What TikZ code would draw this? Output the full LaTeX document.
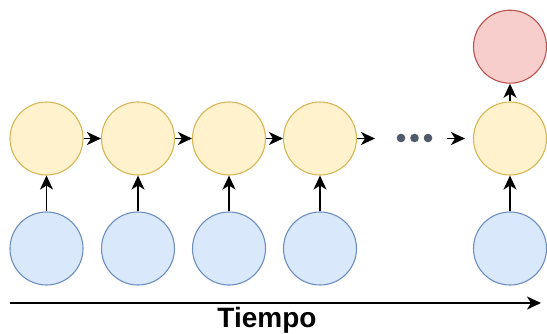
\documentclass[tikz,border=0pt]{standalone}
\usepackage{fontspec}
\setmainfont{Liberation Sans}
\usetikzlibrary{arrows.meta}
\definecolor{yfill}{HTML}{FFF2CC}
\definecolor{ydraw}{HTML}{D6B656}
\definecolor{bfill}{HTML}{DAE8FC}
\definecolor{bdraw}{HTML}{6C8EBF}
\definecolor{rfill}{HTML}{F8CECC}
\definecolor{rdraw}{HTML}{B85450}
\definecolor{dotc}{HTML}{4F5B6B}
\begin{document}
\begin{tikzpicture}[x=1pt,y=-1pt,
  cell/.style={circle,minimum size=73pt,inner sep=0pt,line width=1.1pt},
  hid/.style={cell,fill=yfill,draw=ydraw},
  inp/.style={cell,fill=bfill,draw=bdraw},
  outp/.style={cell,fill=rfill,draw=rdraw},
  dotnode/.style={circle,fill=dotc,minimum size=8.6pt,inner sep=0pt},
  conn/.style={line width=1.8pt,-{Stealth[length=14pt,width=13pt,inset=4pt]}},
  timeline/.style={line width=1.8pt,-{Stealth[length=14pt,width=13pt,inset=4pt]}}]
\useasboundingbox (0,0) rectangle (547,333);
\node[hid] (y1) at (46.5,138.5) {};
\node[hid] (y2) at (138,138.5) {};
\node[hid] (y3) at (229,138.5) {};
\node[hid] (y4) at (320,138.5) {};
\node[hid] (y5) at (510,138.5) {};
\node[outp] (r) at (510,46.7) {};
\node[inp] (b1) at (46.5,248.5) {};
\node[inp] (b2) at (138,248.5) {};
\node[inp] (b3) at (229,248.5) {};
\node[inp] (b4) at (320,248.5) {};
\node[inp] (b5) at (510,248.5) {};
\node[dotnode] (d1) at (401,138) {};
\node[dotnode] (d2) at (414.5,138) {};
\node[dotnode] (d3) at (428,138) {};
\coordinate (a1e) at (375,138.5);
\coordinate (a2s) at (447,138.5);
\coordinate (a2e) at (465,138.5);
\draw[conn] (y1) -- (y2);
\draw[conn] (y2) -- (y3);
\draw[conn] (y3) -- (y4);
\draw[conn] (y4) -- (a1e);
\draw[conn] (a2s) -- (a2e);
\draw[conn] (y5) -- (r);
\foreach \i in {1,...,5} \draw[conn] (b\i) -- (y\i);
\coordinate (t0) at (10,303);
\coordinate (t1) at (541,303);
\draw[timeline] (t0) -- (t1);
\node[font=\bfseries\fontsize{28}{30}\selectfont,anchor=base] (lbl) at (267,327.5) {Tiempo};
\end{tikzpicture}
\end{document}
